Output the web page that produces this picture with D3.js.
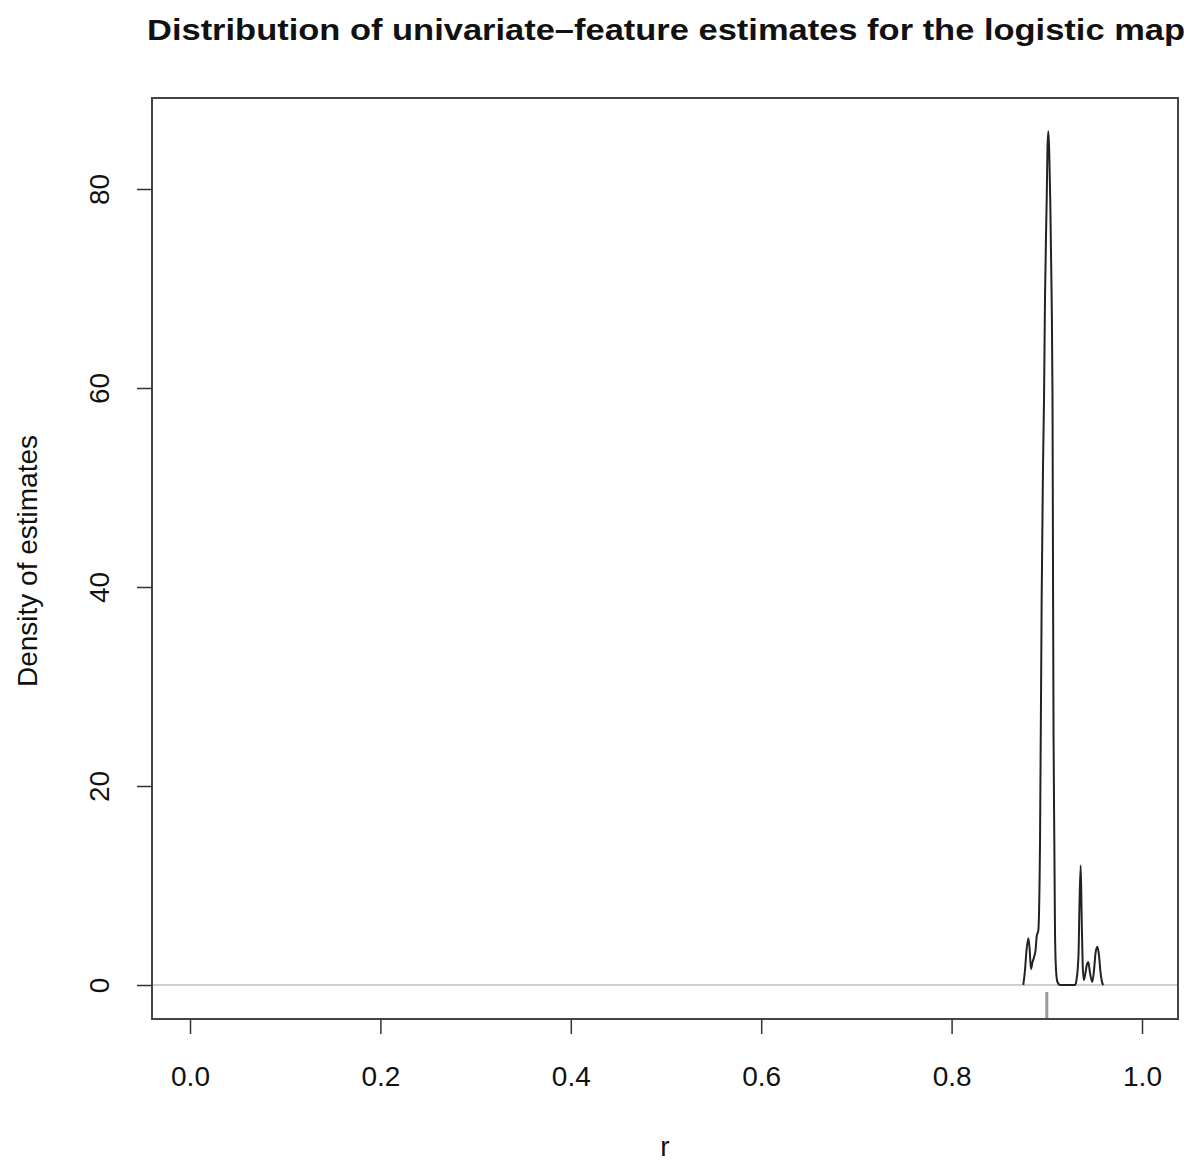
<!DOCTYPE html>
<html>
<head>
<meta charset="utf-8">
<script src="https://cdn.jsdelivr.net/npm/d3@7"></script>
<style>
  body { margin: 0; background: #fff; }
  text { font-family: "Liberation Sans", Arial, sans-serif; fill: #111; }
</style>
</head>
<body>
<svg id="chart" width="1196" height="1161"></svg>
<script>
// density curve
var rVals = [0.8753, 0.8771, 0.8787, 0.8806, 0.8818, 0.8834, 0.8850, 0.8866, 0.8882, 0.8894,
  0.8911, 0.8929, 0.8946, 0.8960, 0.8971, 0.8981, 0.8999, 0.9007, 0.9016, 0.9025,
  0.9036, 0.9051, 0.9060, 0.9066, 0.9071, 0.9079, 0.9086, 0.9097, 0.9112, 0.9139,
  0.9296, 0.9312, 0.9333, 0.9343, 0.9356, 0.9366, 0.9377, 0.9389, 0.9406, 0.9422,
  0.9436, 0.9454, 0.9478, 0.9496, 0.9512, 0.9531, 0.9548, 0.9564, 0.9580, 0.9594]
var density = [0, 1.5, 3.5, 4.7, 3.8, 1.6, 2.3, 2.8, 3.5, 4.9,
  5.5, 14.6, 38.7, 52, 59, 69, 79, 84, 85.8, 84,
  79, 69, 59, 39, 25, 14.6, 5.5, 1.5, 0.3, 0,
  0, 0.5, 3, 8, 12, 7, 2, 0.5, 1.2, 2.1,
  2.3, 1.2, 0.3, 1.5, 3.2, 3.85, 3, 1.3, 0.3, 0]
var trueR = [0.9]

var xTicks = [0, 0.2, 0.4, 0.6, 0.8, 1.0]
var yTicks = [0, 20, 40, 60, 80]

var svg = d3.select('#chart')

var x = d3.scaleLinear().domain([0, 1]).range([190, 1142])
var y = d3.scaleLinear().domain([0, 80]).range([985, 189])

var box = { left: 152, top: 98, right: 1178, bottom: 1019 }

// zero line
svg.append('line')
  .attr('x1', box.left).attr('x2', box.right)
  .attr('y1', y(0)).attr('y2', y(0))
  .attr('stroke', '#cfcfcf').attr('stroke-width', 2)

// rug for the true value
svg.selectAll('.rug')
  .data(trueR)
  .enter()
  .append('line')
    .attr('class', 'rug')
    .attr('x1', d => x(d)).attr('x2', d => x(d))
    .attr('y1', 992).attr('y2', box.bottom)
    .attr('stroke', '#999').attr('stroke-width', 3)

// curve
var pts = rVals.map((r, i) => [r, density[i]])
var line = d3.line()
  .x(d => x(d[0]))
  .y(d => y(d[1]))
  .curve(d3.curveMonotoneX)

svg.append('path')
  .datum(pts)
  .attr('d', line)
  .attr('fill', 'none')
  .attr('stroke', '#222')
  .attr('stroke-width', 2)

// box
svg.append('rect')
  .attr('x', box.left).attr('y', box.top)
  .attr('width', box.right - box.left).attr('height', box.bottom - box.top)
  .attr('fill', 'none')
  .attr('stroke', '#444').attr('stroke-width', 2)

// x axis
var xAxis = d3.axisBottom(x)
  .tickValues(xTicks)
  .tickFormat(d3.format('.1f'))
  .tickSize(15)
  .tickPadding(32)

var gx = svg.append('g')
  .attr('transform', 'translate(0,' + box.bottom + ')')
  .call(xAxis)
gx.select('.domain').remove()
gx.selectAll('line').attr('stroke', '#333').attr('stroke-width', 1.5)
gx.selectAll('text').attr('font-size', 28).attr('fill', '#111')

// y axis
var yAxis = d3.axisLeft(y)
  .tickValues(yTicks)
  .tickSize(15)

var gy = svg.append('g')
  .attr('transform', 'translate(' + box.left + ',0)')
  .call(yAxis)
gy.select('.domain').remove()
gy.selectAll('line').attr('stroke', '#333').attr('stroke-width', 1.5)
gy.selectAll('text')
  .attr('font-size', 28)
  .attr('fill', '#111')
  .attr('x', null).attr('dy', null)
  .attr('text-anchor', 'middle')
  .attr('transform', 'translate(-43,0) rotate(-90)')

// titles
svg.append('text')
  .attr('x', 666).attr('y', 40)
  .attr('text-anchor', 'middle')
  .attr('font-size', 29)
  .attr('font-weight', 'bold')
  .attr('textLength', 1038)
  .attr('lengthAdjust', 'spacingAndGlyphs')
  .text('Distribution of univariate\u2013feature estimates for the logistic map')

svg.append('text')
  .attr('x', 665).attr('y', 1156)
  .attr('text-anchor', 'middle')
  .attr('font-size', 28)
  .text('r')

svg.append('text')
  .attr('transform', 'translate(37,561) rotate(-90)')
  .attr('text-anchor', 'middle')
  .attr('font-size', 28)
  .text('Density of estimates')
</script>
</body>
</html>
